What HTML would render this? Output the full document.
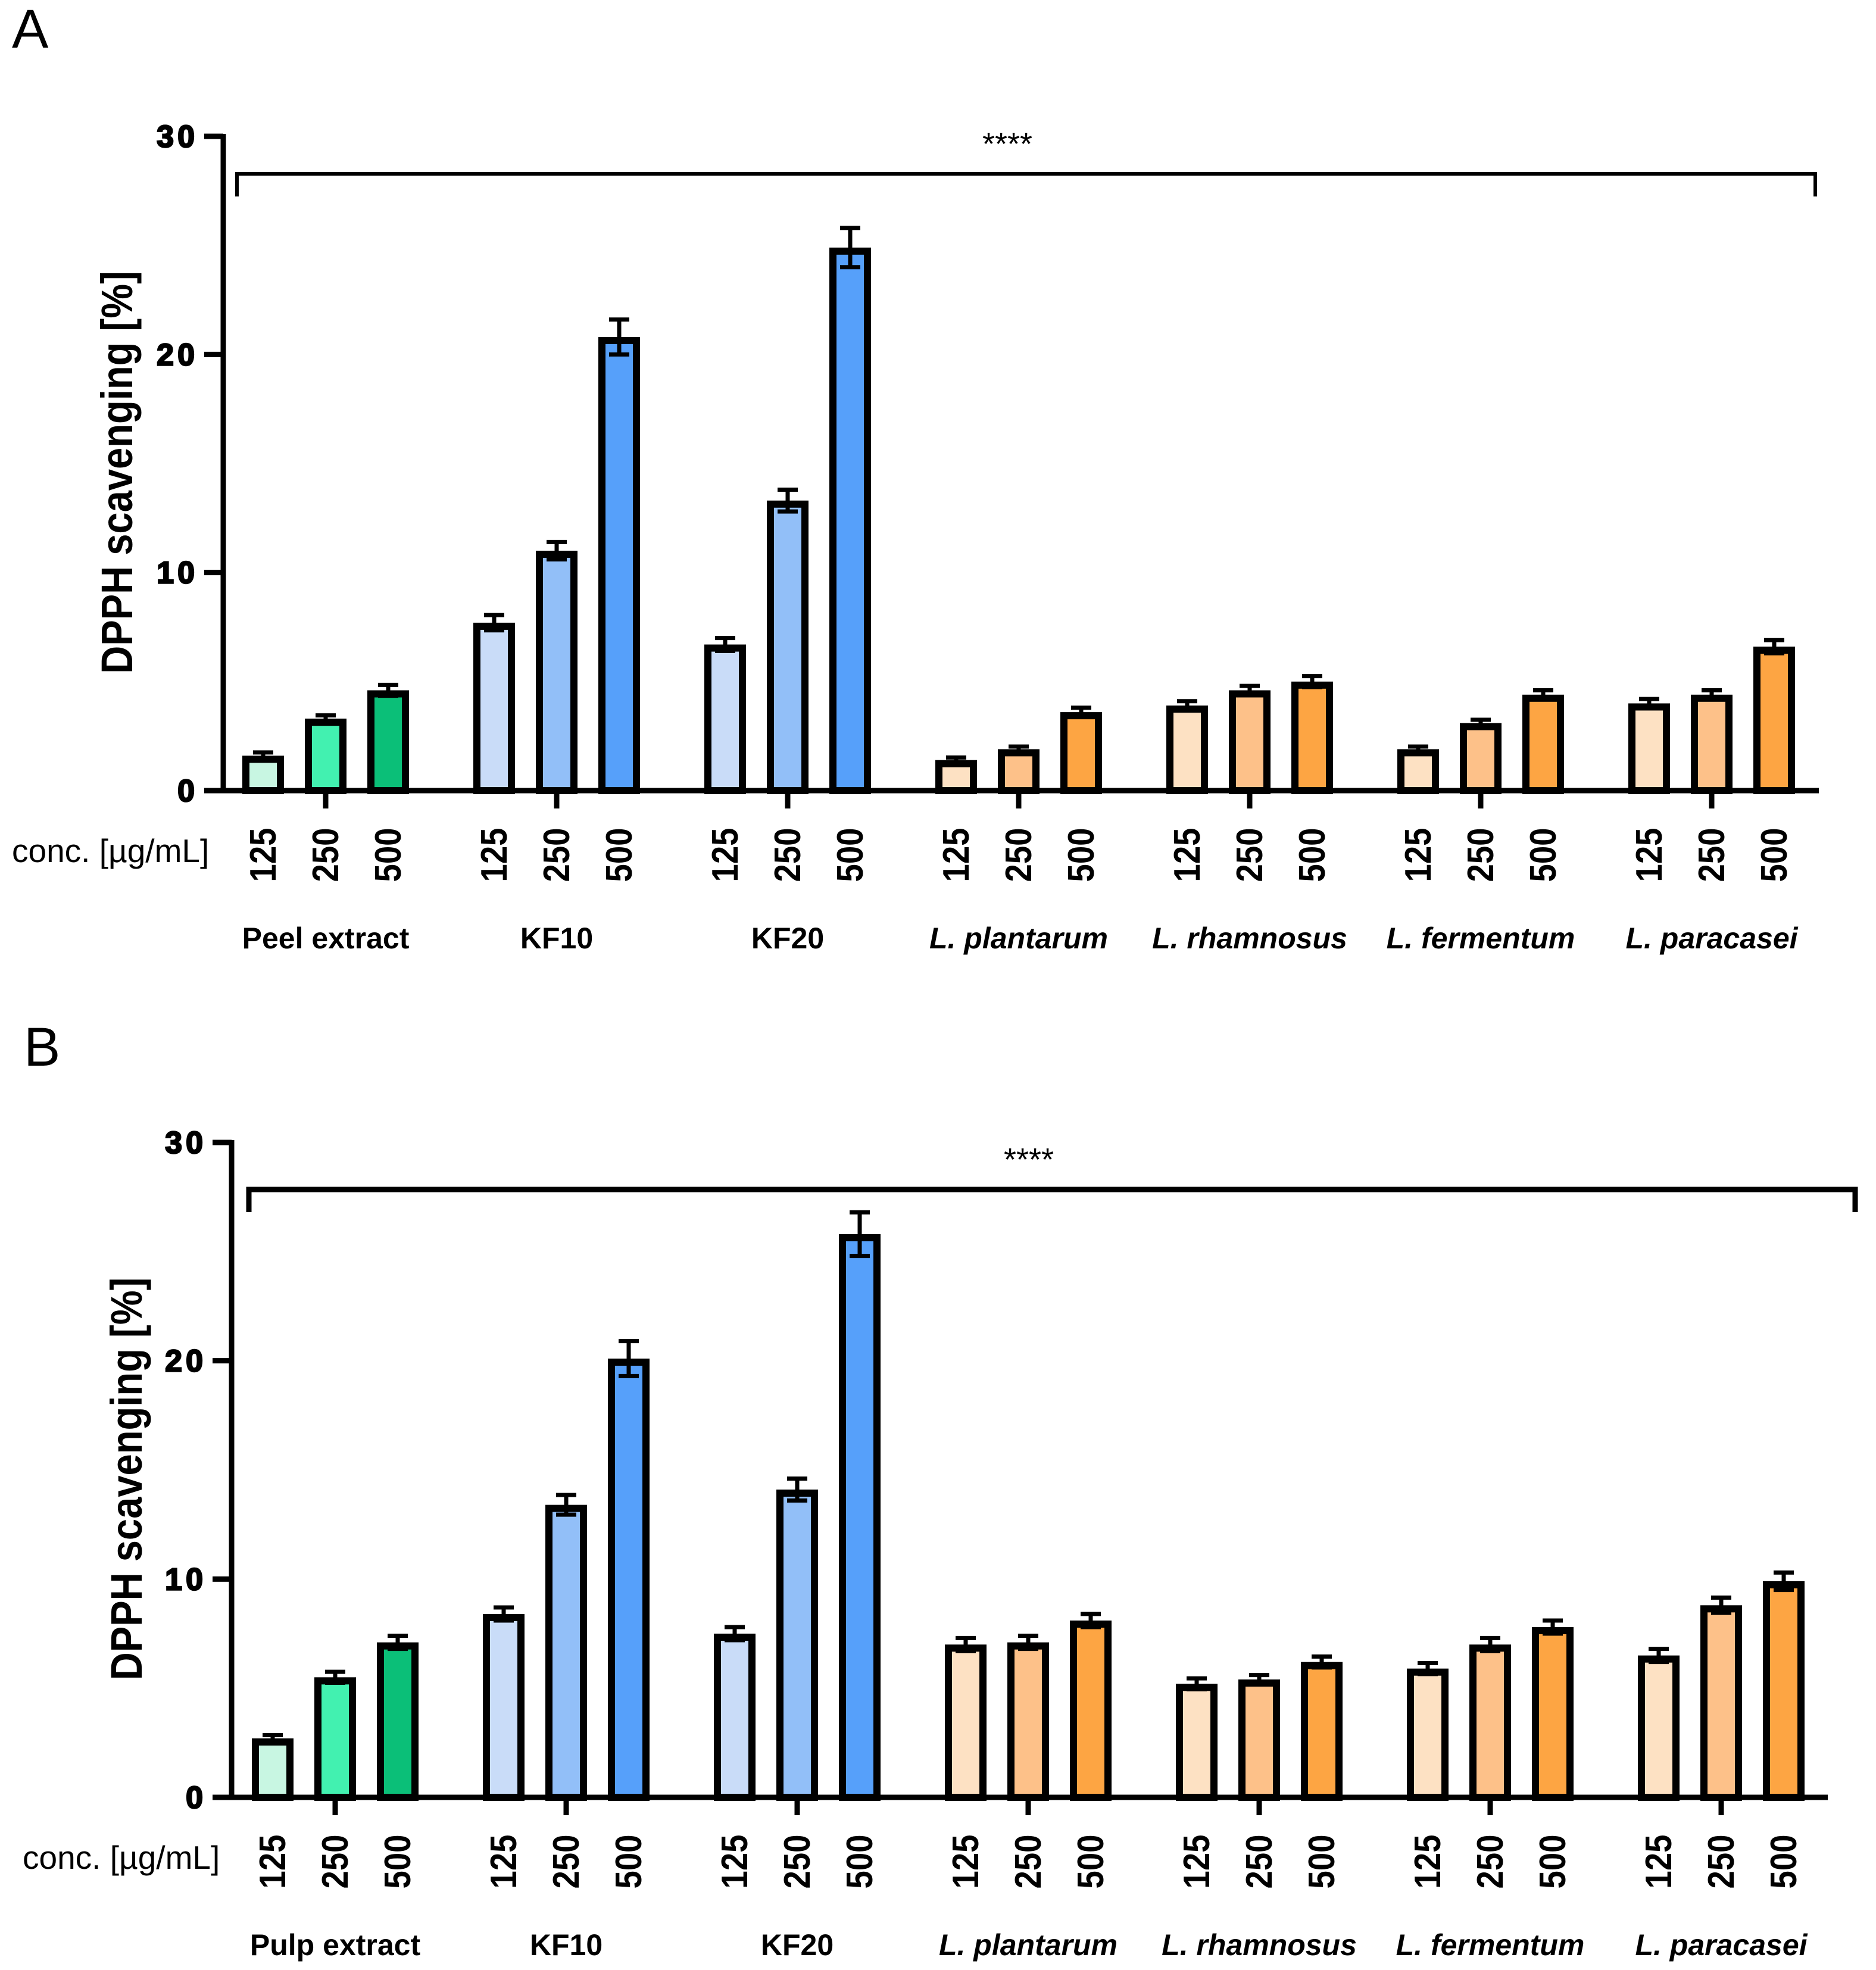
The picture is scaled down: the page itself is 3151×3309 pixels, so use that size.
<!DOCTYPE html>
<html><head><meta charset="utf-8"><style>
html,body{margin:0;padding:0;background:#fff}
svg{display:block}
text{font-family:"Liberation Sans",sans-serif;fill:#000}
</style></head><body>
<svg id="fig" width="3151" height="3309" viewBox="0 0 3151 3309" xmlns="http://www.w3.org/2000/svg"></svg>
<script>
const groupsA = ["Peel extract","KF10","KF20","L. plantarum","L. rhamnosus","L. fermentum","L. paracasei"];
const groupsB = ["Pulp extract","KF10","KF20","L. plantarum","L. rhamnosus","L. fermentum","L. paracasei"];
const concLabels = ["125","250","500"];
const yTicks = [0,10,20,30];
const valuesA = [1.6,3.3,4.6, 7.7,11.0,20.8, 6.7,13.3,24.9, 1.4,1.9,3.6, 3.9,4.6,5.0, 1.9,3.1,4.4, 4.0,4.4,6.6];
const errorsA = [0.15,0.15,0.25, 0.35,0.4,0.8, 0.3,0.5,0.9, 0.12,0.12,0.2, 0.2,0.2,0.25, 0.12,0.15,0.2, 0.2,0.2,0.3];
const valuesB = [2.7,5.5,7.1, 8.4,13.4,20.1, 7.5,14.1,25.8, 7.0,7.1,8.1, 5.2,5.4,6.2, 5.9,7.0,7.8, 6.5,8.8,9.9];
const errorsB = [0.15,0.25,0.3, 0.3,0.45,0.8, 0.3,0.5,1.0, 0.3,0.3,0.3, 0.25,0.2,0.25, 0.25,0.3,0.3, 0.3,0.35,0.4];
const italicGroups = [false,false,false,true,true,true,true];
const colorsGreen = ["#c8f6e2","#42f1b0","#0bbf78"];
const colorsBlue = ["#c9dcf8","#92bff8","#56a0fa"];
const colorsOrange = ["#fde1c3","#fdc189","#fda543"];

const NS="http://www.w3.org/2000/svg";
const svg=document.getElementById('fig');
function mk(tag,attrs,parent){const e=document.createElementNS(NS,tag);for(const k in attrs)e.setAttribute(k,attrs[k]);(parent||svg).appendChild(e);return e;}

function panel(cfg){
  const g=mk('g',{});
  
  
  const y=v=>cfg.y0-(v/30)*(cfg.y0-cfg.y30);
  const x=(gi,i)=>cfg.x0+gi*cfg.gstep+i*cfg.bstep;
  const L=mk('text',{x:cfg.lx,y:cfg.ly,'font-size':92},g);L.textContent=cfg.letter;
  
  
  const vals=cfg.values, errs=cfg.errors;
  vals.forEach((v,k)=>{
    const gi=Math.floor(k/3), i=k%3;
    const cx=x(gi,i);
    const col=gi===0?colorsGreen[i]:(gi<3?colorsBlue[i]:colorsOrange[i]);
    const r=mk('rect',{x:cx-29,y:y(v)+6,width:58,height:cfg.y0-y(v)-6,fill:col,stroke:'#000','stroke-width':12},g);
    
    
    const e=errs[k];
    const eb=mk('path',{d:`M${cx},${y(v+e)}V${y(v-e)}M${cx-17},${y(v+e)}H${cx+17}M${cx-17},${y(v-e)}H${cx+17}`,stroke:'#000','stroke-width':7,fill:'none'},g);
    
    
  });
  const ax=mk('path',{d:`M${cfg.ax},${cfg.y30-4}V${cfg.y0}H${cfg.xEnd}`,stroke:'#000','stroke-width':9,fill:'none'},g);
  
  
  yTicks.forEach(t=>{
    mk('line',{x1:cfg.ax-32,x2:cfg.ax,y1:y(t),y2:y(t),stroke:'#000','stroke-width':9},g);
    const tl=mk('text',{x:cfg.ax-42,y:y(t)+18,'font-size':52,'font-weight':'bold','text-anchor':'end',stroke:'#000','stroke-width':2.5,style:'letter-spacing:6px'},g);
    tl.textContent=t;
    
    
  });
  for(let gi=0;gi<7;gi++){
    mk('line',{x1:x(gi,1),x2:x(gi,1),y1:cfg.y0,y2:cfg.y0+30,stroke:'#000','stroke-width':9},g);
    for(let i=0;i<3;i++){
      const t=mk('text',{x:0,y:0,'font-size':62,'font-weight':'bold','text-anchor':'middle',transform:`translate(${x(gi,i)+21},${cfg.y0+108}) rotate(-90) scale(0.88,1)`},g);
      t.textContent=concLabels[i];
      
      
    }
    const gl=mk('text',{x:x(gi,1),y:cfg.y0+265,'font-size':50,'font-weight':'bold','text-anchor':'middle','font-style':italicGroups[gi]?'italic':'normal'},g);
    gl.textContent=cfg.groups[gi];
    
    
  }
  const cl=mk('text',{x:cfg.clx,y:cfg.y0+120,'font-size':55},g);cl.textContent='conc. [µg/mL]';
  
  
  const yt=mk('text',{x:0,y:0,'font-size':74,'font-weight':'bold','text-anchor':'middle',transform:`translate(${cfg.ytx},${(cfg.y0+cfg.y30)/2+15}) rotate(-90) scale(0.88,1)`},g);
  yt.textContent='DPPH scavenging [%]';
  
  
  const br=mk('path',{d:`M${cfg.bx1},${cfg.by+38}V${cfg.by}H${cfg.bx2}V${cfg.by+38}`,stroke:'#000','stroke-width':cfg.bw,fill:'none'},g);
  
  
  const st=mk('text',{x:cfg.sx,y:cfg.by-32,'font-size':54,'text-anchor':'middle'},g);st.textContent='****';
  
  
}
panel({name:'panel-a',letter:'A',lx:20,ly:80,groups:groupsA,values:valuesA,errors:errorsA,
  y0:1328,y30:229,ax:375,xEnd:3055,x0:442,gstep:388,bstep:105,clx:20,ytx:222,
  bx1:398,bx2:3049,by:292,bw:6,sx:1692});
panel({name:'panel-b',letter:'B',lx:40,ly:1790,groups:groupsB,values:valuesB,errors:errorsB,
  y0:3019,y30:1919,ax:389,xEnd:3070,x0:458,gstep:388,bstep:105,clx:38,ytx:238,
  bx1:418,bx2:3116,by:1998,bw:9,sx:1728});
</script>
</body></html>
